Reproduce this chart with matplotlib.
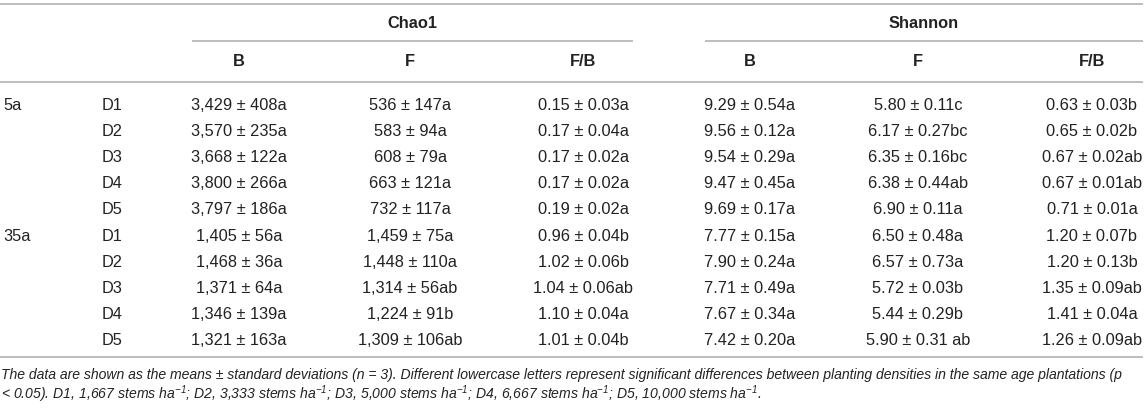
import matplotlib
matplotlib.use("Agg")
import matplotlib.pyplot as plt

# ---------------- data ----------------
ages = ["5a", "", "", "", "", "35a", "", "", "", ""]
densities = ["D1", "D2", "D3", "D4", "D5", "D1", "D2", "D3", "D4", "D5"]

groups = ["Chao1", "Shannon"]
subheaders = ["B", "F", "F/B", "B", "F", "F/B"]

chao1_B_mean = [3429, 3570, 3668, 3800, 3797, 1405, 1468, 1371, 1346, 1321]
chao1_B_sd = [408, 235, 122, 266, 186, 56, 36, 64, 139, 163]
chao1_B_let = ["a", "a", "a", "a", "a", "a", "a", "a", "a", "a"]

chao1_F_mean = [536, 583, 608, 663, 732, 1459, 1448, 1314, 1224, 1309]
chao1_F_sd = [147, 94, 79, 121, 117, 75, 110, 56, 91, 106]
chao1_F_let = ["a", "a", "a", "a", "a", "a", "a", "ab", "b", "ab"]

chao1_FB_mean = [0.15, 0.17, 0.17, 0.17, 0.19, 0.96, 1.02, 1.04, 1.10, 1.01]
chao1_FB_sd = [0.03, 0.04, 0.02, 0.02, 0.02, 0.04, 0.06, 0.06, 0.04, 0.04]
chao1_FB_let = ["a", "a", "a", "a", "a", "b", "b", "ab", "a", "b"]

shan_B_mean = [9.29, 9.56, 9.54, 9.47, 9.69, 7.77, 7.90, 7.71, 7.67, 7.42]
shan_B_sd = [0.54, 0.12, 0.29, 0.45, 0.17, 0.15, 0.24, 0.49, 0.34, 0.20]
shan_B_let = ["a", "a", "a", "a", "a", "a", "a", "a", "a", "a"]

shan_F_mean = [5.80, 6.17, 6.35, 6.38, 6.90, 6.50, 6.57, 5.72, 5.44, 5.90]
shan_F_sd = [0.11, 0.27, 0.16, 0.44, 0.11, 0.48, 0.73, 0.03, 0.29, 0.31]
shan_F_let = ["c", "bc", "bc", "ab", "a", "a", "a", "b", "b", " ab"]

shan_FB_mean = [0.63, 0.65, 0.67, 0.67, 0.71, 1.20, 1.20, 1.35, 1.41, 1.26]
shan_FB_sd = [0.03, 0.02, 0.02, 0.01, 0.01, 0.07, 0.13, 0.09, 0.04, 0.09]
shan_FB_let = ["b", "b", "ab", "ab", "a", "b", "b", "ab", "a", "ab"]

footnote_1 = ("The data are shown as the means \u00b1 standard deviations (n = 3). "
              "Different lowercase letters represent significant differences between "
              "planting densities in the same age plantations (p")
footnote_2 = ("< 0.05). D1, 1,667 stems ha$^{-1}$; D2, 3,333 stems ha$^{-1}$; "
              "D3, 5,000 stems ha$^{-1}$; D4, 6,667 stems ha$^{-1}$; "
              "D5, 10,000 stems ha$^{-1}$.")

# ---------------- formatting ----------------
def fmt_int(m, s, l):
    return [f"{a:,} \u00b1 {b}{c}" for a, b, c in zip(m, s, l)]

def fmt_dec(m, s, l):
    return [f"{a:.2f} \u00b1 {b:.2f}{c}" for a, b, c in zip(m, s, l)]

columns = [
    fmt_int(chao1_B_mean, chao1_B_sd, chao1_B_let),
    fmt_int(chao1_F_mean, chao1_F_sd, chao1_F_let),
    fmt_dec(chao1_FB_mean, chao1_FB_sd, chao1_FB_let),
    fmt_dec(shan_B_mean, shan_B_sd, shan_B_let),
    fmt_dec(shan_F_mean, shan_F_sd, shan_F_let),
    fmt_dec(shan_FB_mean, shan_FB_sd, shan_FB_let),
]

# ---------------- layout ----------------
W, H = 1145, 412
plt.rcParams["font.family"] = ["Liberation Sans", "DejaVu Sans"]
plt.rcParams["mathtext.fontset"] = "custom"
plt.rcParams["mathtext.rm"] = "Liberation Sans:italic"
plt.rcParams["mathtext.it"] = "Liberation Sans:italic"
plt.rcParams["mathtext.default"] = "it"

fig = plt.figure(figsize=(W / 100, H / 100), dpi=100)
ax = fig.add_axes([0, 0, 1, 1])
ax.set_xlim(0, W)
ax.set_ylim(H, 0)
ax.axis("off")

txt_col = "#222222"
rule_col = "#b8b8b8"
fs = 11.8
rule_lw = 1.3

col_x = [239, 410, 583, 750, 918, 1092]
group_x = [(192, 633), (705, 1143)]
row_y0, row_dy = 105, 26.2

# rules
ax.hlines(3.5, 0, 1143, color=rule_col, lw=rule_lw)
for x0, x1 in group_x:
    ax.hlines(41, x0, x1, color=rule_col, lw=rule_lw)
ax.hlines(82, 0, 1143, color=rule_col, lw=rule_lw)
ax.hlines(357, 0, 1143, color=rule_col, lw=rule_lw)

# group headers
for g, (x0, x1) in zip(groups, group_x):
    ax.text((x0 + x1) / 2, 23, g, ha="center", va="center", fontsize=fs,
            fontweight="bold", color=txt_col)
# subheaders
for s, x in zip(subheaders, col_x):
    ax.text(x, 61, s, ha="center", va="center", fontsize=fs,
            fontweight="bold", color=txt_col)

# body
for i in range(len(densities)):
    y = row_y0 + i * row_dy
    if ages[i]:
        ax.text(3, y, ages[i], ha="left", va="center", fontsize=fs, color=txt_col)
    ax.text(102, y, densities[i], ha="left", va="center", fontsize=fs, color=txt_col)
    for col, x in zip(columns, col_x):
        ax.text(x, y, col[i], ha="center", va="center", fontsize=fs, color=txt_col)

# footnote
ax.text(1, 375, footnote_1, ha="left", va="center", fontsize=10.1,
        style="italic", color=txt_col)
ax.text(1, 394, footnote_2, ha="left", va="center", fontsize=10.1,
        style="italic", color=txt_col)

fig.savefig("out.png", dpi=100)
